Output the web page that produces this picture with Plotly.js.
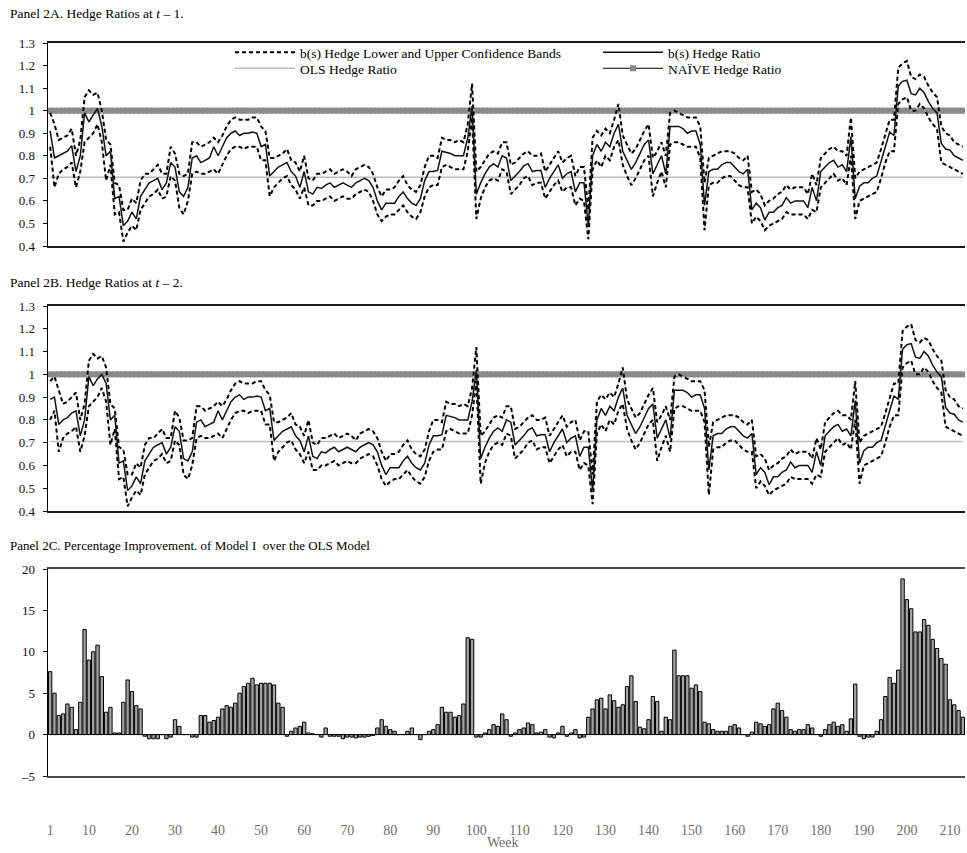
<!DOCTYPE html>
<html>
<head>
<meta charset="utf-8">
<script src="https://cdn.plot.ly/plotly-3.0.1.min.js"></script>
<style>html,body{margin:0;padding:0;background:#fff;}#chart{width:967px;height:853px;}</style>
</head>
<body>
<div id="chart"></div>
<script>
// ---------- DATA ----------
const OLS_HEDGE = 0.705;
const NAIVE_HEDGE = 1.0;

const hedgeA = [0.91,0.79,0.80,0.81,0.82,0.845,0.73,0.80,0.99,0.95,
 0.98,1.01,0.93,0.80,0.82,0.61,0.62,0.49,0.51,0.55,
 0.52,0.62,0.65,0.68,0.69,0.70,0.65,0.68,0.77,0.75,
 0.64,0.62,0.66,0.79,0.80,0.77,0.78,0.79,0.84,0.80,
 0.84,0.88,0.90,0.91,0.89,0.90,0.90,0.905,0.90,0.84,
 0.85,0.71,0.73,0.75,0.76,0.77,0.73,0.71,0.66,0.73,
 0.64,0.63,0.66,0.655,0.67,0.68,0.66,0.67,0.68,0.67,
 0.66,0.68,0.69,0.70,0.69,0.66,0.60,0.56,0.59,0.59,
 0.59,0.62,0.64,0.61,0.59,0.58,0.61,0.69,0.73,0.73,
 0.735,0.82,0.815,0.81,0.80,0.80,0.80,0.88,1.02,0.63,
 0.68,0.72,0.75,0.765,0.75,0.80,0.79,0.69,0.71,0.73,
 0.755,0.765,0.73,0.735,0.735,0.66,0.70,0.73,0.76,0.70,
 0.72,0.73,0.64,0.68,0.68,0.49,0.80,0.85,0.82,0.86,
 0.84,0.90,0.94,0.82,0.78,0.74,0.77,0.81,0.85,0.87,
 0.72,0.76,0.80,0.72,0.93,0.93,0.93,0.92,0.90,0.91,
 0.91,0.85,0.58,0.73,0.74,0.74,0.76,0.77,0.77,0.75,
 0.73,0.72,0.74,0.56,0.59,0.57,0.515,0.55,0.55,0.57,
 0.58,0.615,0.59,0.60,0.60,0.60,0.57,0.66,0.60,0.73,
 0.75,0.77,0.78,0.75,0.76,0.73,0.885,0.61,0.665,0.68,
 0.68,0.70,0.71,0.77,0.84,0.905,0.89,1.11,1.13,1.135,
 1.075,1.07,1.10,1.08,1.04,1.01,0.99,0.855,0.83,0.825,
 0.80,0.79,0.78];

const upperA = [0.99,0.94,0.87,0.88,0.89,0.92,0.80,0.87,1.06,1.09,
 1.07,1.08,1.00,0.87,0.85,0.68,0.67,0.56,0.56,0.61,
 0.59,0.69,0.72,0.72,0.74,0.76,0.72,0.72,0.84,0.81,
 0.72,0.71,0.72,0.86,0.86,0.84,0.85,0.86,0.88,0.86,
 0.89,0.93,0.96,0.97,0.96,0.96,0.96,0.97,0.97,0.93,
 0.91,0.79,0.79,0.80,0.81,0.83,0.78,0.77,0.73,0.80,
 0.70,0.69,0.72,0.72,0.73,0.74,0.72,0.73,0.74,0.73,
 0.71,0.74,0.75,0.76,0.75,0.72,0.66,0.62,0.65,0.65,
 0.66,0.69,0.71,0.67,0.65,0.64,0.67,0.75,0.80,0.80,
 0.79,0.88,0.87,0.87,0.86,0.87,0.86,0.94,1.12,0.73,
 0.75,0.78,0.81,0.82,0.81,0.86,0.86,0.76,0.77,0.79,
 0.81,0.82,0.80,0.80,0.81,0.73,0.76,0.79,0.82,0.77,
 0.79,0.80,0.71,0.75,0.75,0.56,0.88,0.91,0.89,0.92,
 0.90,0.96,1.03,0.89,0.85,0.81,0.83,0.87,0.91,0.94,
 0.79,0.82,0.86,0.80,0.99,1.00,0.99,0.98,0.97,0.97,
 0.97,0.93,0.68,0.79,0.80,0.81,0.82,0.82,0.82,0.81,
 0.79,0.78,0.80,0.64,0.65,0.63,0.58,0.60,0.61,0.63,
 0.64,0.67,0.65,0.66,0.66,0.66,0.63,0.72,0.67,0.79,
 0.81,0.83,0.84,0.82,0.82,0.80,0.97,0.70,0.73,0.74,
 0.75,0.76,0.77,0.83,0.90,0.96,0.96,1.19,1.21,1.22,
 1.15,1.14,1.16,1.15,1.11,1.08,1.06,0.93,0.90,0.89,
 0.86,0.85,0.84];

const lowerA = [0.84,0.66,0.72,0.74,0.75,0.77,0.66,0.73,0.86,0.88,
 0.90,0.94,0.86,0.69,0.76,0.54,0.55,0.42,0.46,0.49,
 0.47,0.56,0.59,0.62,0.63,0.65,0.61,0.62,0.71,0.69,
 0.57,0.54,0.60,0.72,0.73,0.72,0.72,0.73,0.74,0.72,
 0.76,0.80,0.83,0.84,0.84,0.83,0.84,0.84,0.84,0.78,
 0.78,0.62,0.66,0.68,0.70,0.71,0.67,0.65,0.61,0.66,
 0.58,0.58,0.60,0.60,0.61,0.62,0.60,0.61,0.62,0.61,
 0.61,0.63,0.64,0.65,0.64,0.60,0.54,0.51,0.53,0.54,
 0.54,0.56,0.58,0.55,0.53,0.52,0.55,0.62,0.66,0.67,
 0.67,0.75,0.76,0.75,0.74,0.74,0.74,0.82,0.97,0.52,
 0.61,0.66,0.69,0.70,0.69,0.74,0.73,0.63,0.65,0.67,
 0.70,0.71,0.67,0.68,0.68,0.61,0.64,0.67,0.69,0.64,
 0.66,0.66,0.58,0.61,0.60,0.43,0.74,0.78,0.75,0.80,
 0.78,0.84,0.87,0.76,0.71,0.67,0.70,0.74,0.78,0.80,
 0.62,0.68,0.73,0.66,0.85,0.86,0.86,0.85,0.84,0.84,
 0.84,0.79,0.47,0.67,0.68,0.68,0.70,0.71,0.71,0.69,
 0.67,0.66,0.66,0.50,0.53,0.51,0.47,0.49,0.50,0.51,
 0.52,0.55,0.54,0.54,0.54,0.54,0.52,0.56,0.55,0.66,
 0.68,0.70,0.72,0.69,0.70,0.67,0.80,0.52,0.60,0.61,
 0.62,0.63,0.64,0.70,0.77,0.82,0.82,1.03,1.05,1.06,
 1.00,1.00,1.03,1.01,0.97,0.94,0.92,0.77,0.76,0.75,
 0.74,0.73,0.72];

const hedgeB = [0.89,0.90,0.78,0.80,0.81,0.83,0.84,0.73,0.80,0.99,
 0.95,0.98,1.00,0.96,0.80,0.82,0.61,0.62,0.49,0.51,
 0.55,0.52,0.62,0.65,0.68,0.69,0.70,0.65,0.68,0.77,
 0.75,0.63,0.62,0.66,0.79,0.80,0.77,0.78,0.79,0.84,
 0.80,0.84,0.88,0.90,0.91,0.89,0.90,0.90,0.905,0.90,
 0.84,0.85,0.71,0.73,0.75,0.76,0.77,0.73,0.71,0.66,
 0.73,0.64,0.63,0.66,0.655,0.67,0.68,0.66,0.67,0.68,
 0.67,0.66,0.68,0.69,0.70,0.69,0.66,0.60,0.56,0.59,
 0.59,0.59,0.62,0.64,0.61,0.59,0.58,0.61,0.69,0.73,
 0.73,0.735,0.82,0.815,0.81,0.80,0.80,0.80,0.88,1.02,
 0.63,0.68,0.72,0.75,0.765,0.75,0.80,0.79,0.69,0.71,
 0.73,0.755,0.765,0.73,0.735,0.735,0.66,0.70,0.73,0.76,
 0.70,0.72,0.73,0.64,0.68,0.68,0.49,0.80,0.85,0.82,
 0.86,0.84,0.90,0.94,0.82,0.78,0.74,0.77,0.81,0.85,
 0.87,0.72,0.76,0.80,0.72,0.93,0.93,0.93,0.92,0.90,
 0.91,0.91,0.85,0.58,0.73,0.74,0.74,0.76,0.77,0.77,
 0.75,0.73,0.72,0.74,0.56,0.59,0.57,0.515,0.55,0.55,
 0.57,0.58,0.615,0.59,0.60,0.60,0.60,0.57,0.66,0.60,
 0.73,0.75,0.77,0.78,0.75,0.76,0.73,0.885,0.61,0.665,
 0.68,0.68,0.70,0.71,0.77,0.84,0.905,0.89,1.11,1.13,
 1.135,1.075,1.07,1.10,1.08,1.04,1.01,0.99,0.855,0.83,
 0.825,0.80,0.79];

const upperB = [0.97,0.99,0.93,0.87,0.88,0.90,0.92,0.80,0.87,1.06,
 1.09,1.07,1.08,1.03,0.87,0.85,0.68,0.67,0.56,0.56,
 0.61,0.59,0.69,0.72,0.72,0.74,0.76,0.72,0.72,0.84,
 0.81,0.71,0.71,0.72,0.86,0.86,0.84,0.85,0.86,0.88,
 0.86,0.89,0.93,0.96,0.97,0.96,0.96,0.96,0.97,0.97,
 0.93,0.91,0.79,0.79,0.80,0.81,0.83,0.78,0.77,0.73,
 0.80,0.70,0.69,0.72,0.72,0.73,0.74,0.72,0.73,0.74,
 0.73,0.71,0.74,0.75,0.76,0.75,0.72,0.66,0.62,0.65,
 0.65,0.66,0.69,0.71,0.67,0.65,0.64,0.67,0.75,0.80,
 0.80,0.79,0.88,0.87,0.87,0.86,0.87,0.86,0.94,1.12,
 0.73,0.75,0.78,0.81,0.82,0.81,0.86,0.86,0.76,0.77,
 0.79,0.81,0.82,0.80,0.80,0.81,0.73,0.76,0.79,0.82,
 0.77,0.79,0.80,0.71,0.75,0.75,0.56,0.88,0.91,0.89,
 0.92,0.90,0.96,1.03,0.89,0.85,0.81,0.83,0.87,0.91,
 0.94,0.79,0.82,0.86,0.80,0.99,1.00,0.99,0.98,0.97,
 0.97,0.97,0.93,0.68,0.79,0.80,0.81,0.82,0.82,0.82,
 0.81,0.79,0.78,0.80,0.64,0.65,0.63,0.58,0.60,0.61,
 0.63,0.64,0.67,0.65,0.66,0.66,0.66,0.63,0.72,0.67,
 0.79,0.81,0.83,0.84,0.82,0.82,0.80,0.97,0.70,0.73,
 0.74,0.75,0.76,0.77,0.83,0.90,0.96,0.96,1.19,1.21,
 1.22,1.15,1.14,1.16,1.15,1.11,1.08,1.06,0.93,0.90,
 0.89,0.86,0.85];

const lowerB = [0.80,0.84,0.66,0.72,0.74,0.75,0.77,0.66,0.73,0.86,
 0.88,0.90,0.94,0.88,0.69,0.76,0.54,0.55,0.42,0.46,
 0.49,0.47,0.56,0.59,0.62,0.63,0.65,0.61,0.62,0.71,
 0.69,0.56,0.54,0.60,0.72,0.73,0.72,0.72,0.73,0.74,
 0.72,0.76,0.80,0.83,0.84,0.84,0.83,0.84,0.84,0.84,
 0.78,0.78,0.62,0.66,0.68,0.70,0.71,0.67,0.65,0.61,
 0.66,0.58,0.58,0.60,0.60,0.61,0.62,0.60,0.61,0.62,
 0.61,0.61,0.63,0.64,0.65,0.64,0.60,0.54,0.51,0.53,
 0.54,0.54,0.56,0.58,0.55,0.53,0.52,0.55,0.62,0.66,
 0.67,0.67,0.75,0.76,0.75,0.74,0.74,0.74,0.82,0.97,
 0.52,0.61,0.66,0.69,0.70,0.69,0.74,0.73,0.63,0.65,
 0.67,0.70,0.71,0.67,0.68,0.68,0.61,0.64,0.67,0.69,
 0.64,0.66,0.66,0.58,0.61,0.60,0.43,0.74,0.78,0.75,
 0.80,0.78,0.84,0.87,0.76,0.71,0.67,0.70,0.74,0.78,
 0.80,0.62,0.68,0.73,0.66,0.85,0.86,0.86,0.85,0.84,
 0.84,0.84,0.79,0.47,0.67,0.68,0.68,0.70,0.71,0.71,
 0.69,0.67,0.66,0.66,0.50,0.53,0.51,0.47,0.49,0.50,
 0.51,0.52,0.55,0.54,0.54,0.54,0.54,0.52,0.56,0.55,
 0.66,0.68,0.70,0.72,0.69,0.70,0.67,0.80,0.52,0.60,
 0.61,0.62,0.63,0.64,0.70,0.77,0.82,0.82,1.03,1.05,
 1.06,1.00,1.00,1.03,1.01,0.97,0.94,0.92,0.77,0.76,
 0.75,0.74,0.73];

const improvement = [7.6,5.0,2.3,2.5,3.7,3.3,0.6,3.9,12.7,9.0,
 10.0,10.8,7.0,2.7,3.3,0.2,0.2,3.9,6.6,5.2,
 3.5,3.1,-0.2,-0.5,-0.5,-0.5,0,-0.5,-0.3,1.8,
 1.0,0,0,-0.3,-0.3,2.3,2.3,1.5,1.7,2.1,
 3.1,3.5,3.3,3.8,5.0,5.8,6.2,6.8,6.0,6.2,
 6.2,6.2,6.0,3.8,3.3,-0.2,0.4,0.8,1.0,1.5,
 0.2,0.1,0,-0.3,0.8,-0.2,-0.2,-0.2,-0.5,-0.3,
 -0.3,-0.4,-0.3,-0.3,-0.2,-0.1,0.8,1.8,1.0,0.6,
 0.4,0,0,0.4,0.8,0,-0.6,0,0.4,0.6,
 1.2,3.3,2.7,2.7,2.1,2.3,3.7,11.7,11.5,-0.3,
 -0.3,0.2,0.6,1.2,1.0,2.5,1.8,-0.2,0.2,0.6,
 0.8,1.4,1.2,0.2,0.3,0.6,-0.3,-0.4,0.2,1.0,
 -0.2,0.2,0.6,-0.4,-0.3,2.1,3.1,4.2,4.4,3.1,
 4.8,4.1,3.3,3.6,5.8,7.1,4.0,0.9,0.7,1.8,
 4.6,4.0,0.4,2.1,1.8,10.2,7.1,7.1,7.1,5.6,
 6.0,5.2,1.5,1.3,0.6,0.4,0.4,0.4,1.0,1.2,
 0.8,0,-0.2,0.3,1.5,1.3,1.0,1.2,3.1,3.8,
 2.9,2.1,0.6,0.4,0.6,0.6,1.2,0.8,0,-0.2,
 0.6,1.2,1.5,1.0,1.2,0.4,1.9,6.1,-0.2,-0.5,
 -0.3,-0.3,0.4,1.8,4.6,6.9,6.2,7.8,18.8,16.3,
 15.2,12.4,12.4,13.9,13.2,11.5,10.4,9.2,8.5,4.2,
 3.6,2.9,2.1];

const weekTicks = [1,10,20,30,40,50,60,70,80,90,100,110,120,130,140,150,160,170,180,190,200,210];
const hedgeTickVals = [0.4,0.5,0.6,0.7,0.8,0.9,1.0,1.1,1.2,1.3];
const hedgeTickText = ['0.4','0.5','0.6','0.7','0.8','0.9','1','1.1','1.2','1.3'];
const impTickVals = [-5,0,5,10,15,20];
const impTickText = ['\u20135','0','5','10','15','20'];

// ---------- CHART ----------
const N = hedgeA.length;
const weeks = Array.from({length: N}, (_, i) => i + 1);
const olsSeries = weeks.map(() => OLS_HEDGE);
const naiveSeries = weeks.map(() => NAIVE_HEDGE);

const W = 967, H = 853;
const SERIF = '"Liberation Serif", "Times New Roman", Times, serif';

function panelTraces(xa, ya, hedge, up, lo, showLeg) {
  return [
    {x: weeks, y: olsSeries, xaxis: xa, yaxis: ya, mode: 'lines', name: 'OLS Hedge Ratio',
     line: {color: '#bdbdbd', width: 1.6}, showlegend: showLeg, legend: 'legend3', hoverinfo: 'skip'},
    {x: weeks, y: naiveSeries, xaxis: xa, yaxis: ya, mode: 'lines+markers', name: 'NAÏVE Hedge Ratio',
     line: {color: '#000', width: 1}, marker: {symbol: 'square', size: 6, color: '#8a8a8a', line: {width: 0}},
     showlegend: showLeg, legend: 'legend4', hoverinfo: 'skip'},
    {x: weeks, y: up, xaxis: xa, yaxis: ya, mode: 'lines', line: {color: '#c8c8c8', width: 0.8},
     showlegend: false, hoverinfo: 'skip'},
    {x: weeks, y: lo, xaxis: xa, yaxis: ya, mode: 'lines', line: {color: '#c8c8c8', width: 0.8},
     showlegend: false, hoverinfo: 'skip'},
    {x: weeks, y: up, xaxis: xa, yaxis: ya, mode: 'lines', name: 'b(s) Hedge Lower and Upper Confidence Bands',
     line: {color: '#000', width: 2, dash: '4px,3px'}, showlegend: showLeg, legend: 'legend', legendgroup: 'band' + xa, hoverinfo: 'skip'},
    {x: weeks, y: lo, xaxis: xa, yaxis: ya, mode: 'lines', name: 'b(s) Hedge Lower and Upper Confidence Bands',
     line: {color: '#000', width: 2, dash: '4px,3px'}, showlegend: false, legendgroup: 'band' + xa, hoverinfo: 'skip'},
    {x: weeks, y: hedge, xaxis: xa, yaxis: ya, mode: 'lines', name: 'b(s) Hedge Ratio',
     line: {color: '#111', width: 1.5}, showlegend: showLeg, legend: 'legend2', hoverinfo: 'skip'}
  ];
}

const traces = [].concat(
  panelTraces('x', 'y', hedgeA, upperA, lowerA, true),
  panelTraces('x2', 'y2', hedgeB, upperB, lowerB, false),
  [{x: weeks, y: improvement, xaxis: 'x3', yaxis: 'y3', type: 'bar', showlegend: false,
    marker: {color: '#a3a3a3', line: {color: '#000', width: 1}}, hoverinfo: 'skip'}]
);

const xDom = [48 / W, 965 / W];
function hedgeX(anchor) {
  return {domain: xDom, anchor: anchor, range: [0.5, N + 0.5], showgrid: false, zeroline: false,
          showticklabels: false, ticks: '', showline: true, linecolor: '#1a1a1a', linewidth: 2, mirror: true, fixedrange: true};
}
function hedgeY(anchor, top, bottom) {
  return {domain: [1 - bottom / H, 1 - top / H], anchor: anchor, range: [0.4, 1.3],
          tickvals: hedgeTickVals, ticktext: hedgeTickText, ticks: 'outside', ticklen: 4, tickcolor: '#000',
          showline: true, linecolor: '#000', linewidth: 1.5, showgrid: false, zeroline: false,
          tickfont: {family: SERIF, size: 13, color: '#111'}, ticklabelstandoff: 5, fixedrange: true};
}
function leg(xPx, topPx) {
  return {x: xPx / W, y: 1 - topPx / H, xanchor: 'left', yanchor: 'top', orientation: 'v',
          bgcolor: 'rgba(0,0,0,0)', borderwidth: 0, itemwidth: 60,
          font: {family: SERIF, size: 13.5, color: '#000'}, itemclick: false, itemdoubleclick: false};
}

const layout = {
  width: W, height: H,
  margin: {l: 0, r: 0, t: 0, b: 0},
  paper_bgcolor: '#fff', plot_bgcolor: '#fff',
  font: {family: SERIF, size: 12, color: '#000'},
  bargap: 0.22,
  showlegend: true,
  xaxis: hedgeX('y'),
  yaxis: hedgeY('x', 43, 246),
  xaxis2: hedgeX('y2'),
  yaxis2: hedgeY('x2', 306, 511),
  xaxis3: {domain: xDom, anchor: 'y3', range: [0.5, N + 0.5], showgrid: false, zeroline: false,
           tickvals: weekTicks, ticktext: weekTicks.map(String), ticks: '', ticklabelstandoff: 40,
           tickfont: {family: SERIF, size: 14, color: '#707070'},
           showline: true, linecolor: '#4a4a4a', linewidth: 2, mirror: true, fixedrange: true},
  yaxis3: {domain: [1 - 776 / H, 1 - 569 / H], anchor: 'x3', range: [-5, 20],
           tickvals: impTickVals, ticktext: impTickText, ticks: 'outside', ticklen: 4, tickcolor: '#000',
           showline: true, linecolor: '#000', linewidth: 1.5, showgrid: false,
           zeroline: true, zerolinecolor: '#000', zerolinewidth: 1,
           tickfont: {family: SERIF, size: 13, color: '#111'}, ticklabelstandoff: 5, fixedrange: true},
  legend: leg(230, 37),
  legend3: leg(230, 53),
  legend2: leg(598, 37),
  legend4: leg(598, 53),
  annotations: [
    {text: 'Panel 2A. Hedge Ratios at <i>t</i> \u2013 1.', xref: 'paper', yref: 'paper', x: 8 / W, y: 1 - 14 / H,
     xanchor: 'left', yanchor: 'middle', showarrow: false, font: {family: SERIF, size: 13.5, color: '#000'}},
    {text: 'Panel 2B. Hedge Ratios at <i>t</i> \u2013 2.', xref: 'paper', yref: 'paper', x: 8 / W, y: 1 - 282 / H,
     xanchor: 'left', yanchor: 'middle', showarrow: false, font: {family: SERIF, size: 13.5, color: '#000'}},
    {text: 'Panel 2C. Percentage Improvement. of Model I\u00a0 over the OLS Model', xref: 'paper', yref: 'paper', x: 8 / W, y: 1 - 545 / H,
     xanchor: 'left', yanchor: 'middle', showarrow: false, font: {family: SERIF, size: 13, color: '#000'}},
    {text: 'Week', xref: 'paper', yref: 'paper', x: 503 / W, y: 1 - 842 / H,
     xanchor: 'center', yanchor: 'middle', showarrow: false, font: {family: SERIF, size: 14, color: '#707070'}}
  ]
};

Plotly.newPlot('chart', traces, layout, {staticPlot: true, displayModeBar: false});
</script>
</body>
</html>
